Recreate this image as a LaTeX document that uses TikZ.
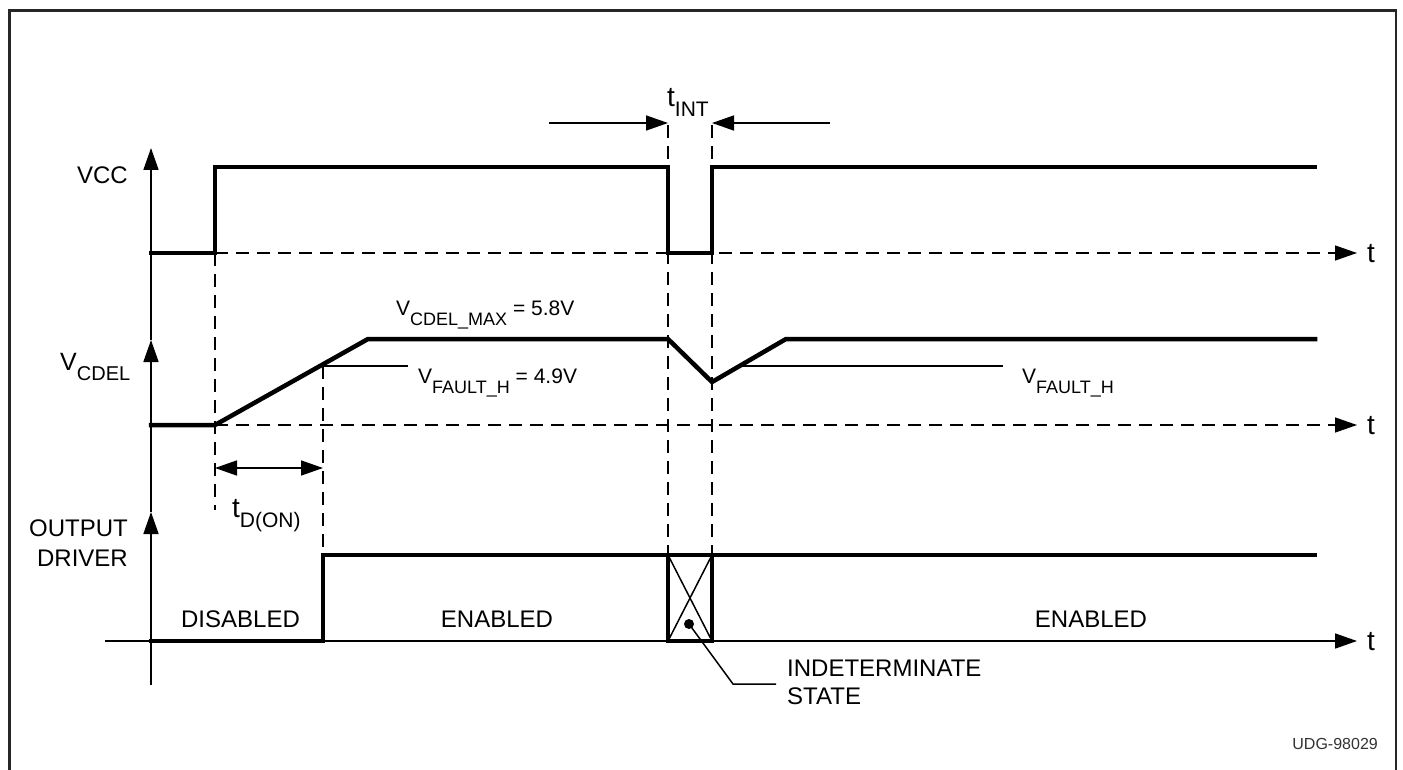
\documentclass[tikz,border=0pt]{standalone}
\usepackage{fontspec}
\setmainfont{Liberation Sans}
\usetikzlibrary{arrows.meta}
\newcommand{\sbs}[1]{\raisebox{-10pt}{\fontsize{18}{18}\selectfont #1}}
\newcommand{\sbm}[1]{\raisebox{-10pt}{\fontsize{21}{21}\selectfont #1}}
\newcommand{\sbc}[1]{\raisebox{-10pt}{\fontsize{20}{20}\selectfont #1}}
\begin{document}
\begin{tikzpicture}[x=1pt,y=-1pt,
  sig/.style={line width=4.5pt, line join=miter, line cap=rect},
  axisline/.style={line width=1.6pt},
  guide/.style={line width=1.3pt, dash pattern=on 13pt off 8pt},
  thinline/.style={line width=1.5pt},
  tipend/.style={-{Triangle[length=22pt,width=15pt]}},
  biend/.style={{Triangle[length=22pt,width=15pt]}-{Triangle[length=22pt,width=15pt]}},
  big/.style={font=\fontsize{24}{28}\selectfont, inner sep=0pt},
  tfont/.style={font=\fontsize{28}{32}\selectfont, inner sep=0pt},
  mid/.style={font=\fontsize{21}{25}\selectfont, inner sep=0pt},
  small/.style={font=\fontsize{16}{18}\selectfont, inner sep=0pt, text=black!80},
]
\useasboundingbox (0,0) rectangle (1403,770);
\fill[white] (0,0) rectangle (1403,770);
\draw[line width=2.5pt, black!85] (9.5,771) -- (9.5,10.5) -- (1396,10.5) -- (1396,771);

% vertical axes
\coordinate (ax0) at (151,685);
\coordinate (axO) at (151,512);
\coordinate (axC) at (151,340);
\coordinate (axV) at (151,148);
\draw[axisline,tipend] (ax0) -- (axO);
\draw[axisline,tipend] (axO) -- (axC);
\draw[axisline,tipend] (axC) -- (axV);

% time axes
\coordinate (vccB0) at (215,253);
\coordinate (vccB1) at (1357,253);
\coordinate (cdB0) at (215,425);
\coordinate (cdB1) at (1357,425);
\coordinate (outB0) at (105,641);
\coordinate (outB1) at (1357,641);
\draw[guide,tipend] (vccB0) -- (vccB1);
\draw[guide,tipend] (cdB0) -- (cdB1);
\draw[axisline,tipend] (outB0) -- (outB1);

% guide verticals
\coordinate (g1a) at (215,253); \coordinate (g1b) at (215,510);
\coordinate (g2a) at (323,366); \coordinate (g2b) at (323,555);
\coordinate (g3a) at (668,125); \coordinate (g3b) at (668,555);
\coordinate (g4a) at (712,125); \coordinate (g4b) at (712,555);
\draw[guide] (g1a) -- (g1b);
\draw[guide] (g2a) -- (g2b);
\draw[guide] (g3a) -- (g3b);
\draw[guide] (g4a) -- (g4b);

% VCC signal
\draw[sig] (151,253) -- (215,253) -- (215,167) -- (668,167) -- (668,253) -- (712,253) -- (712,167) -- (1315,167);

% VCDEL signal
\draw[sig] (151,425) -- (215,425) -- (368,339) -- (668,339) -- (712,382) -- (786,339) -- (1315,339);

% fault thresholds
\coordinate (f1a) at (320,366); \coordinate (f1b) at (408,366);
\coordinate (f2a) at (740,366); \coordinate (f2b) at (1003,366);
\draw[thinline] (f1a) -- (f1b);
\draw[thinline] (f2a) -- (f2b);

% output signal
\draw[sig] (151,641) -- (323,641) -- (323,555) -- (668,555);
\draw[sig] (712,555) -- (1315,555);
\draw[sig] (668,555) rectangle (712,641);
\draw[thinline] (668,555) -- (712,641);
\draw[thinline] (712,555) -- (668,641);

% timing arrows
\coordinate (td0) at (215,468); \coordinate (td1) at (323,468);
\draw[thinline,biend] (td0) -- (td1);
\coordinate (ti0) at (549,123); \coordinate (ti1) at (668,123);
\coordinate (ti2) at (830,123); \coordinate (ti3) at (712,123);
\draw[thinline,tipend] (ti0) -- (ti1);
\draw[thinline,tipend] (ti2) -- (ti3);

% indeterminate pointer
\coordinate (dot) at (689,624);
\coordinate (bend) at (733,684);
\coordinate (pend) at (776,684);
\fill (dot) circle (5pt);
\draw[thinline] (dot) -- (bend) -- (pend);

% labels
\node[big, anchor=east] (lvcc) at (128,175.5) {VCC};
\node[big, anchor=base west, font=\fontsize{25}{28}\selectfont] (lvcdel) at (60,370) {V\sbc{CDEL}};
\node[big, anchor=east, align=right, font=\fontsize{24}{30}\selectfont] (lout) at (128,543.5) {OUTPUT\\DRIVER};
\node[tfont, anchor=base west] (t1) at (1367,262) {t};
\node[tfont, anchor=base west] (t2) at (1367,434) {t};
\node[tfont, anchor=base west] (t3) at (1367,650) {t};
\node[tfont, anchor=base west] (ltint) at (667,107) {t\sbm{INT}};
\node[tfont, anchor=base west] (ltdon) at (232,517) {t\sbm{D(ON)}};
\node[mid, anchor=base west] (lmax) at (396,315) {V\sbs{CDEL\_MAX} = 5.8V};
\node[mid, anchor=base west] (lf1) at (418,383) {V\sbs{FAULT\_H} = 4.9V};
\node[mid, anchor=base west] (lf2) at (1022,383) {V\sbs{FAULT\_H}};
\node[big] (ldis) at (240.5,619) {DISABLED};
\node[big] (len1) at (497,619) {ENABLED};
\node[big] (len2) at (1091,619) {ENABLED};
\node[big, anchor=north west, align=left, font=\fontsize{24}{27.5}\selectfont] (lind) at (787,660) {INDETERMINATE\\STATE};
\node[small, anchor=east] (ludg) at (1378,744) {UDG-98029};
\end{tikzpicture}
\end{document}
